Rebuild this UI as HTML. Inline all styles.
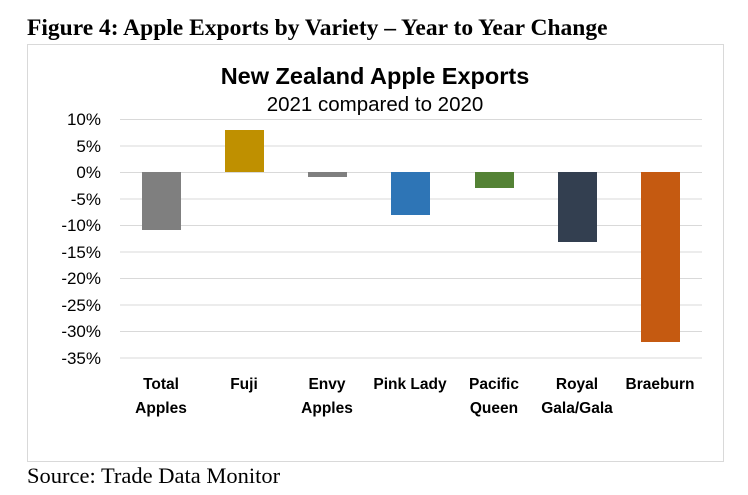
<!DOCTYPE html>
<html><head><style>
body{margin:0;background:#fff;width:748px;height:495px;overflow:hidden;position:relative;font-family:"Liberation Sans",sans-serif}
.t{position:absolute;font-family:"Liberation Serif",serif;white-space:nowrap}
</style></head><body>
<div class="t" style="left:27px;top:15px;font-size:23.5px;font-weight:bold;">Figure 4: Apple Exports by Variety – Year to Year Change</div>
<div class="t" style="left:27px;top:463px;font-size:22.5px;">Source: Trade Data Monitor</div>
<svg width="748" height="495" style="position:absolute;left:0;top:0" font-family="Liberation Sans, sans-serif">
<rect x="27.5" y="44.5" width="696" height="417" fill="none" stroke="#d9d9d9"/>
<text x="375" y="84" text-anchor="middle" font-size="23.5" font-weight="bold">New Zealand Apple Exports</text>
<text x="375" y="111" text-anchor="middle" font-size="20.5">2021 compared to 2020</text>
<g stroke="#d9d9d9" stroke-width="1">
<line x1="120" x2="702" y1="119.5" y2="119.5"/><line x1="120" x2="702" y1="146" y2="146"/>
<line x1="120" x2="702" y1="172.5" y2="172.5"/><line x1="120" x2="702" y1="199" y2="199"/>
<line x1="120" x2="702" y1="225.5" y2="225.5"/><line x1="120" x2="702" y1="252" y2="252"/>
<line x1="120" x2="702" y1="278.5" y2="278.5"/><line x1="120" x2="702" y1="305" y2="305"/>
<line x1="120" x2="702" y1="331.5" y2="331.5"/><line x1="120" x2="702" y1="358" y2="358"/>
</g>
<g font-size="17" text-anchor="end">
<text x="101" y="125">10%</text><text x="101" y="152">5%</text><text x="101" y="178">0%</text>
<text x="101" y="205">-5%</text><text x="101" y="231">-10%</text><text x="101" y="258">-15%</text>
<text x="101" y="284">-20%</text><text x="101" y="311">-25%</text><text x="101" y="337">-30%</text>
<text x="101" y="364">-35%</text>
</g>
<rect x="142" y="172" width="39" height="58" fill="#7f7f7f"/>
<rect x="225" y="130" width="39" height="42" fill="#bf9000"/>
<rect x="308" y="172" width="39" height="5" fill="#7f7f7f"/>
<rect x="391" y="172" width="39" height="43" fill="#2e75b6"/>
<rect x="475" y="172" width="39" height="16" fill="#548235"/>
<rect x="558" y="172" width="39" height="70" fill="#333f50"/>
<rect x="641" y="172" width="39" height="170" fill="#c55a11"/>
<g font-size="15.5" font-weight="bold" text-anchor="middle">
<text x="161" y="389">Total</text><text x="161" y="413">Apples</text>
<text x="244" y="389">Fuji</text>
<text x="327" y="389">Envy</text><text x="327" y="413">Apples</text>
<text x="410" y="389">Pink Lady</text>
<text x="494" y="389">Pacific</text><text x="494" y="413">Queen</text>
<text x="577" y="389">Royal</text><text x="577" y="413">Gala/Gala</text>
<text x="660" y="389">Braeburn</text>
</g>
</svg>
</body></html>
